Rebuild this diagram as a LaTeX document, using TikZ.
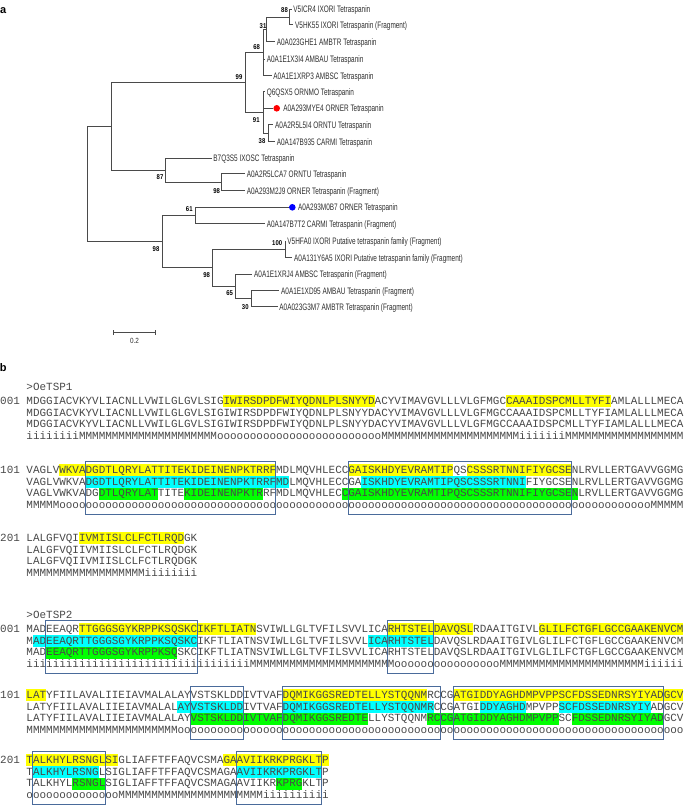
\documentclass[tikz,border=0pt]{standalone}
\usepackage{fontspec}
\setmainfont{Liberation Sans}
\setmonofont{Liberation Mono}
\usepackage{xcolor}
\usepackage{tikz}
\usetikzlibrary{positioning,calc}

\definecolor{treegray}{HTML}{4A4A4A}
\definecolor{leafgray}{HTML}{2E2E2E}
\definecolor{seqgray}{HTML}{484848}
\definecolor{boxblue}{HTML}{4A6B9B}
\definecolor{hlyellow}{HTML}{FFFF00}
\definecolor{hlcyan}{HTML}{00FFFF}
\definecolor{hlgreen}{HTML}{00FF00}

\def\cw{6.571}
\def\rowsep{11.9}

\ExplSyntaxOn
\cs_new:Npn \tmrun #1#2 { \prg_replicate:nn {#1} {#2} }
\ExplSyntaxOff

% one block of the alignment: id, number, y of first row, sequence, topology
\newcommand{\seqblock}[5]{%
  \node[seqtext] (#1num) at (0,{#3+3.1}) {#2};
  \foreach \rowi in {1,2,3}
    \node[seqtext] (#1r\rowi) at ({4*\cw},{#3+(\rowi-1)*\rowsep+3.1}) {#4};
  \node[seqtext] (#1r4) at ({4*\cw},{#3+3*\rowsep+3.1}) {#5};}
% highlights: colour, y of first row, row, list of from/to
\newcommand{\hlseq}[4]{%
  \foreach \hfrom/\hto in {#4}
    \fill[#1] ({\cw*(\hfrom+3)},{#2+(#3-1.5)*\rowsep}) rectangle ({\cw*(\hto+4)},{#2+(#3-0.5)*\rowsep});}
% frame: y of first row, from, to
\newcommand{\epibox}[3]{%
  \draw[epiframe] ({\cw*(#2+3)},{#1-8.5}) rectangle ({\cw*(#3+4)},{#1+3*\rowsep+9});}

\begin{document}
\begin{tikzpicture}[x=1pt,y=-1pt,
    branch/.style={draw=treegray, line width=1pt},
    leaf/.style={anchor=west, inner xsep=2.5pt, inner ysep=0pt, xscale=0.684,
      text height=6.7pt, text depth=0pt, font=\fontsize{9.4}{10}\selectfont, text=leafgray},
    boot/.style={inner sep=0pt, xscale=0.85, text height=5pt, text depth=0pt,
      font=\bfseries\fontsize{7}{8}\selectfont},
    tipdot/.style={circle, inner sep=0pt, minimum size=6.6pt},
    seqtext/.style={anchor=base west, inner sep=0pt,
      font=\ttfamily\fontsize{10.95}{12}\selectfont, text=seqgray},
    epiframe/.style={draw=boxblue, line width=1pt},
    panel/.style={inner sep=0pt, font=\bfseries\fontsize{11}{12}\selectfont}]

  \useasboundingbox (0,0) rectangle (685,810);

  \node[panel] (pa) at (3.3,10.5) {a};
  \node[panel] (pb) at (3.3,367.5) {b};

  % tree
  \coordinate (r) at (87.7,184.2);
  \coordinate (nA) at (111,126.6);
  \coordinate (n99) at (245.7,82.8);
  \coordinate (n68) at (263.3,53);
  \coordinate (n31) at (266.7,29.5);
  \coordinate (n88) at (289.3,17.2);
  \coordinate (n91) at (263.3,112.5);
  \coordinate (n38) at (268.3,133.3);
  \coordinate (n87) at (165.7,170.4);
  \coordinate (n98a) at (221.7,182.5);
  \coordinate (nB) at (162.3,241.8);
  \coordinate (n61) at (195.7,215.7);
  \coordinate (n98b) at (212.7,267.8);
  \coordinate (n100) at (285,249.3);
  \coordinate (n65) at (235.7,286.3);
  \coordinate (n30) at (251.7,298.7);

  \node[leaf] (tICR4) at (291.6,9.3) {V5ICR4 IXORI Tetraspanin};
  \node[leaf] (tHK55) at (293.3,25) {V5HK55 IXORI Tetraspanin (Fragment)};
  \node[leaf] (tGHE1) at (275,41.7) {A0A023GHE1 AMBTR Tetraspanin};
  \node[leaf] (tX3I4) at (265,59.3) {A0A1E1X3I4 AMBAU Tetraspanin};
  \node[leaf] (tXRP3) at (271.6,76) {A0A1E1XRP3 AMBSC Tetraspanin};
  \node[leaf] (tQ6) at (265,91.7) {Q6QSX5 ORNMO Tetraspanin};
  \node[tipdot, fill=red] (dMYE4) at (276.7,108.3) {};
  \node[leaf, right=1.3pt of dMYE4] (tMYE4) {A0A293MYE4 ORNER Tetraspanin};
  \node[leaf] (tL5I4) at (273.3,125) {A0A2R5L5I4 ORNTU Tetraspanin};
  \node[leaf] (tB935) at (275,141.7) {A0A147B935 CARMI Tetraspanin};
  \node[leaf] (tB7Q3) at (211.6,158.3) {B7Q3S5 IXOSC Tetraspanin};
  \node[leaf] (tLCA7) at (245,174) {A0A2R5LCA7 ORNTU Tetraspanin};
  \node[leaf] (tM2J9) at (245,191) {A0A293M2J9 ORNER Tetraspanin (Fragment)};
  \node[tipdot, fill=blue] (dM0B7) at (292.3,207.3) {};
  \node[leaf, right=0.4pt of dM0B7] (tM0B7) {A0A293M0B7 ORNER Tetraspanin};
  \node[leaf] (tB7T2) at (265,224) {A0A147B7T2 CARMI Tetraspanin (Fragment)};
  \node[leaf] (tHFA0) at (285.6,241) {V5HFA0 IXORI Putative tetraspanin family (Fragment)};
  \node[leaf] (tY6A5) at (292.3,257.7) {A0A131Y6A5 IXORI Putative tetraspanin family (Fragment)};
  \node[leaf] (tXRJ4) at (252.3,274) {A0A1E1XRJ4 AMBSC Tetraspanin (Fragment)};
  \node[leaf] (tXD95) at (279.3,290.7) {A0A1E1XD95 AMBAU Tetraspanin (Fragment)};
  \node[leaf] (tG3M7) at (277.6,306.7) {A0A023G3M7 AMBTR Tetraspanin (Fragment)};

  \draw[branch] (r) |- (nA) (r) |- (nB)
    (nA) |- (n99) (nA) |- (n87)
    (n99) |- (n68) (n99) |- (n91)
    (n68) |- (n31) (n68) |- (tX3I4.west) (n68) |- (tXRP3.west)
    (n31) |- (n88) (n31) |- (tGHE1.west)
    (n88) |- (tICR4.west) (n88) |- (tHK55.west)
    (n91) |- (tQ6.west) (n91) |- (dMYE4.west) (n91) |- (n38)
    (n38) |- (tL5I4.west) (n38) |- (tB935.west)
    (n87) |- (tB7Q3.west) (n87) |- (n98a)
    (n98a) |- (tLCA7.west) (n98a) |- (tM2J9.west)
    (nB) |- (n61) (nB) |- (n98b)
    (n61) |- (dM0B7.west) (n61) |- (tB7T2.west)
    (n98b) |- (n100) (n98b) |- (n65)
    (n100) |- (tHFA0.west) (n100) |- (tY6A5.west)
    (n65) |- (tXRJ4.west) (n65) |- (n30)
    (n30) |- (tXD95.west) (n30) |- (tG3M7.west);

  \node[boot] (b88) at (284.5,10) {88};
  \node[boot] (b31) at (263,26) {31};
  \node[boot] (b68) at (256.7,46.7) {68};
  \node[boot] (b99) at (239,76.7) {99};
  \node[boot] (b91) at (256.3,120) {91};
  \node[boot] (b38) at (262,140.7) {38};
  \node[boot] (b87) at (160,177.3) {87};
  \node[boot] (b98a) at (216.7,190.7) {98};
  \node[boot] (b61) at (189.3,209.3) {61};
  \node[boot] (b98B) at (156,249.3) {98};
  \node[boot] (b100) at (277.2,242.7) {100};
  \node[boot] (b98b) at (206.7,275) {98};
  \node[boot] (b65) at (229.7,293.3) {65};
  \node[boot] (b30) at (245.3,306.7) {30};

  % scale bar
  \coordinate (sbl) at (113.3,332.7);
  \coordinate (sbr) at (155.7,332.7);
  \draw[branch] (sbl) -- (sbr);
  \draw[branch] ($(sbl)+(0,-2.5)$) -- ($(sbl)+(0,2.5)$);
  \draw[branch] ($(sbr)+(0,-2.5)$) -- ($(sbr)+(0,2.5)$);
  \node[inner sep=0pt, xscale=0.85, font=\fontsize{7.5}{8}\selectfont, text=leafgray] (sblab) at (134.5,340.7) {0.2};

  % highlights
  \hlseq{hlyellow}{401}{1}{31/53,74/89}
  \hlseq{hlyellow}{470}{1}{6/38,50/65,68/83}
  \hlseq{hlcyan}{470}{2}{10/40,52/76}
  \hlseq{hlgreen}{470}{3}{12/20,25/36,49/84}
  \hlseq{hlyellow}{538}{1}{9/24}
  \hlseq{hlyellow}{629}{1}{9/35,56/68,79/100}
  \hlseq{hlcyan}{629}{2}{2/26,53/62}
  \hlseq{hlgreen}{629}{3}{4/23}
  \hlseq{hlyellow}{695}{1}{1/3,40/61,66/100}
  \hlseq{hlcyan}{695}{2}{24/33,40/62,70/76,82/95}
  \hlseq{hlgreen}{695}{3}{26/52,62/81,84/97}
  \hlseq{hlyellow}{760}{1}{1/14,31/46}
  \hlseq{hlcyan}{760}{2}{2/11,33/45}
  \hlseq{hlgreen}{760}{3}{8/12,39/42}

  % sequences
  \node[seqtext] (hOne) at ({4*\cw},390.1) {>OeTSP1};
  \seqblock{sa}{001}{401}{MDGGIACVKYVLIACNLLVWILGLGVLSIGIWIRSDPDFWIYQDNLPLSNYYDACYVIMAVGVLLLVLGFMGCCAAAIDSPCMLLTYFIAMLALLLMECA}
    {\tmrun{8}{i}\tmrun{21}{M}\tmrun{25}{o}\tmrun{21}{M}\tmrun{7}{i}\tmrun{18}{M}}
  \seqblock{sb}{101}{470}{VAGLVWKVADGDTLQRYLATTITEKIDEINENPKTRRFMDLMQVHLECCGAISKHDYEVRAMTIPQSCSSSRTNNIFIYGCSENLRVLLERTGAVVGGMG}
    {\tmrun{5}{M}\tmrun{90}{o}\tmrun{5}{M}}
  \seqblock{sc}{201}{538}{LALGFVQIIVMIISLCLFCTLRQDGK}
    {\tmrun{18}{M}\tmrun{8}{i}}

  \node[seqtext] (hTwo) at ({4*\cw},618.1) {>OeTSP2};
  \seqblock{ta}{001}{629}{MADEEAQRTTGGGSGYKRPPKSQSKCIKFTLIATNSVIWLLGLTVFILSVVLICARHTSTELDAVQSLRDAAITGIVLGLILFCTGFLGCCGAAKENVCM}
    {\tmrun{34}{i}\tmrun{22}{M}\tmrun{16}{o}\tmrun{22}{M}\tmrun{6}{i}}
  \seqblock{tb}{101}{695}{LATYFIILAVALIIEIAVMALALAYVSTSKLDDIVTVAFDQMIKGGSREDTELLYSTQQNMRCCGATGIDDYAGHDMPVPPSCFDSSEDNRSYIYADGCV}
    {\tmrun{23}{M}\tmrun{77}{o}}
  \seqblock{tc}{201}{760}{TALKHYLRSNGLSIGLIAFFTFFAQVCSMAGAAVIIKRKPRGKLTP}
    {\tmrun{14}{o}\tmrun{22}{M}\tmrun{10}{i}}

  % frames
  \epibox{470}{10}{38}
  \epibox{470}{50}{83}
  \epibox{629}{4}{26}
  \epibox{629}{56}{62}
  \epibox{695}{26}{33}
  \epibox{695}{40}{63}
  \epibox{695}{66}{97}
  \epibox{760}{2}{12}
  \epibox{760}{33}{45}
\end{tikzpicture}
\end{document}
